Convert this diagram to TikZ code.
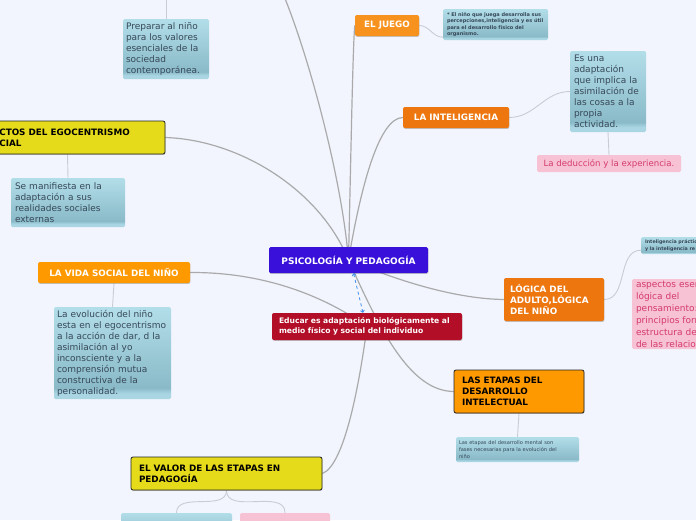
\documentclass[tikz,border=0pt]{standalone}
\usepackage{fontspec}
\setmainfont{DejaVu Sans}
\usepackage{xcolor}
\usepackage{tikz}
\usetikzlibrary{arrows.meta, shadows}
\definecolor{mappaper}{RGB}{242,245,253}
\definecolor{mapblue}{RGB}{56,16,218}
\definecolor{mapred}{RGB}{178,14,40}
\definecolor{juegoorange}{RGB}{247,146,30}
\definecolor{darkorange}{RGB}{237,118,14}
\definecolor{pureorange}{RGB}{255,153,0}
\definecolor{mapyellow}{RGB}{229,219,26}
\definecolor{tealtop}{RGB}{178,222,233}
\definecolor{tealbot}{RGB}{138,186,200}
\definecolor{tealstrip}{RGB}{170,214,227}
\definecolor{tealtext}{RGB}{55,72,88}
\definecolor{pinkfill}{RGB}{247,194,212}
\definecolor{pinktext}{RGB}{212,58,108}
\definecolor{linkgrey}{RGB}{170,170,172}
\definecolor{subgrey}{RGB}{200,204,212}
\definecolor{relblue}{RGB}{60,140,235}
\pgfdeclareverticalshading{notegloss}{100bp}{color(0bp)=(tealstrip); color(25bp)=(tealstrip); color(28bp)=(tealstrip); color(31bp)=(tealbot); color(75bp)=(tealtop); color(100bp)=(tealtop)}
\pgfdeclarelayer{paper}
\pgfdeclarelayer{links}
\pgfsetlayers{paper,links,main}
\tikzset{
  lifted/.style={drop shadow={shadow xshift=0.4pt, shadow yshift=-0.9pt, opacity=0.3, fill=black!70}},
  rootnode/.style={rectangle, fill=mapblue, text=white, rounded corners=1.5pt,
    font=\bfseries\fontsize{9}{11}\selectfont, inner sep=0pt, lifted},
  topic/.style={rectangle, text=white, rounded corners=2pt, align=left,
    font=\bfseries\fontsize{8.8}{11}\selectfont, inner sep=0pt, lifted},
  redtopic/.style={topic, fill=mapred, font=\bfseries\fontsize{7.6}{9.6}\selectfont, inner xsep=7pt},
  yellowtopic/.style={topic, fill=mapyellow, draw=black!85, line width=0.8pt, text=black},
  yellowlabel/.style={text=black, align=left, inner sep=0pt, font=\bfseries\fontsize{8.8}{11}\selectfont},
  notebox/.style={rectangle, shading=notegloss, text=tealtext, rounded corners=1.5pt, align=left,
    font=\fontsize{9}{11}\selectfont, inner xsep=4pt, inner ysep=0pt},
  pinkbox/.style={rectangle, fill=pinkfill, text=pinktext, rounded corners=1.5pt, align=left,
    font=\fontsize{9}{12}\selectfont, inner xsep=4pt, inner ysep=0pt},
  tinybold/.style={font=\bfseries\fontsize{5}{6.5}\selectfont},
  tinyplain/.style={font=\fontsize{5.1}{7}\selectfont},
  mainlink/.style={draw=linkgrey, line width=1.2pt},
  sublink/.style={draw=subgrey, line width=0.9pt},
  relation/.style={draw=relblue, dashed, line width=0.8pt, {Straight Barb[length=2pt,width=4pt]}-{Straight Barb[length=2pt,width=4pt]}}
}

\begin{document}
\begin{tikzpicture}[x=1pt, y=1pt]
  \useasboundingbox (0,0) rectangle (696,-520);
  \begin{pgfonlayer}{paper}
    \fill[mappaper] (0,0) rectangle (696,-520);
  \end{pgfonlayer}

  % centre and floating topic
  \node[rootnode, minimum width=159pt, minimum height=26pt] (root) at (348.5,-260) {PSICOLOGÍA Y PEDAGOGÍA};
  \node[redtopic, text width=176pt, minimum height=27pt] (educar) at (367,-326.5) {Educar es adaptación biológicamente al\\medio físico y social del individuo};

  % upper right
  \node[topic, fill=juegoorange, minimum width=64pt, minimum height=21pt] (juego) at (387,-25.5) {EL JUEGO};
  \node[notebox, tinybold, text width=97pt, minimum height=31pt] (juegonote) at (495.5,-24.5) {* El niño que juega desarrolla sus\\percepciones,inteligencia y es útil\\para el desarrollo físico del\\organismo.};
  \node[topic, fill=darkorange, minimum width=106pt, minimum height=21pt] (inteligencia) at (456,-117.5) {LA INTELIGENCIA};
  \node[notebox, text width=68pt, minimum height=81pt] (adaptacion) at (608,-91.5) {Es una\\adaptación\\que implica la\\asimilación de\\las cosas a la\\propia\\actividad.};
  \node[pinkbox, font=\fontsize{8.6}{11}\selectfont, minimum width=144pt, minimum height=17pt] (deduccion) at (609,-163.5) {La deducción y la experiencia.};

  % upper left
  \node[yellowtopic, minimum width=195pt, minimum height=33pt] (ego) at (67.5,-137.5) {};
  \node[yellowlabel, anchor=west, xshift=29.5pt] (egotext) at (ego.west) {CTOS DEL EGOCENTRISMO\\CIAL};
  \node[notebox, text width=106pt, minimum height=49pt] (manifiesta) at (68,-202.5) {Se manifiesta en la\\adaptación a sus\\realidades sociales\\externas};
  \node[notebox, text width=80pt, inner xsep=3pt, minimum height=60pt] (preparar) at (166,-49) {Preparar al niño\\para los valores\\esenciales de la\\sociedad\\contemporánea.};
  \coordinate (upper) at (284,4);
  \coordinate (prepup) at (166,4);

  % left
  \node[topic, fill=pureorange, minimum width=152pt, minimum height=21pt] (vida) at (114,-272.5) {LA VIDA SOCIAL DEL NIÑO};
  \node[notebox, text width=111pt, inner xsep=3pt, minimum height=92pt] (evolucion) at (112.5,-353) {La evolución del niño\\esta en el egocentrismo\\a la acción de dar, d la\\asimilación al yo\\inconsciente y a la\\comprensión mutua\\constructiva de la\\personalidad.};

  % right
  \node[topic, fill=darkorange, text width=88pt, inner xsep=6pt, minimum height=43pt] (logica) at (554,-299.5) {LÓGICA DEL\\ADULTO,LÓGICA\\DEL NIÑO};
  \node[notebox, tinybold, font=\bfseries\fontsize{4.8}{6.5}\selectfont, text width=90pt, minimum height=17pt] (practica) at (690,-245.5) {Inteligencia práctica\\y la inteligencia re};
  \node[pinkbox, text width=120pt, minimum height=70pt] (aspectos) at (696,-314) {aspectos esenciales\\lógica del\\pensamiento:\\principios formales\\estructura de\\de las relaciones};

  % bottom
  \node[topic, fill=pureorange, draw=black!85, line width=0.8pt, text=black, text width=114pt, inner xsep=8pt, minimum height=43pt] (etapas) at (519,-391.5) {LAS ETAPAS DEL\\DESARROLLO\\INTELECTUAL};
  \node[notebox, tinyplain, text width=117pt, inner xsep=3pt, minimum height=25pt] (etapasnote) at (517.5,-449.5) {Las etapas del desarrollo mental son\\fases necesarias para la evolución del\\niño};
  \node[yellowtopic, text width=175pt, inner xsep=8pt, minimum height=33pt] (valor) at (226.5,-473.5) {EL VALOR DE LAS ETAPAS EN\\PEDAGOGÍA};
  \node[notebox, minimum width=111pt, minimum height=26pt] (valorleft) at (176.5,-526) {};
  \node[pinkbox, minimum width=90pt, minimum height=26pt] (valorright) at (285,-526) {};

  \begin{pgfonlayer}{links}
    \draw[mainlink] (upper) .. controls (310,-60) and (342,-180) .. (root.center);
    \draw[mainlink] (root.center) .. controls (351,-150) and (353,-40) .. (juego.west);
    \draw[mainlink] (root.center) .. controls (362,-180) and (380,-118) .. (inteligencia.west);
    \draw[mainlink] (ego.east) .. controls (240,-140) and (320,-190) .. (root.center);
    \draw[mainlink] (root.center) .. controls (420,-290) and (470,-299) .. (logica.west);
    \draw[mainlink] (root.center) .. controls (380,-330) and (410,-391) .. (etapas.west);
    \draw[mainlink] (vida.east) .. controls (270,-272) and (330,-300) .. (educar.center);
    \draw[mainlink] (educar.center) .. controls (360,-380) and (345,-465) .. (valor.east);

    \draw[sublink] (juego.east) to[out=0, in=180] ([yshift=3pt]juegonote.south west);
    \draw[sublink] (inteligencia.east) to[out=0, in=180] (adaptacion.west);
    \draw[sublink] (adaptacion.south) -- (deduccion.north);
    \draw[sublink] (logica.east) to[out=0, in=180] ([yshift=4pt]practica.south west);
    \draw[sublink] (ego.south) -- (manifiesta.north);
    \draw[sublink] (preparar.north) -- (prepup);
    \draw[sublink] (vida.south) -- (evolucion.north);
    \draw[sublink] (etapas.south) -- (etapasnote.north);
    \draw[sublink] (valor.south) to[out=-90, in=90] (valorleft.north);
    \draw[sublink] (valor.south) to[out=-90, in=90] (valorright.north);
  \end{pgfonlayer}

  \draw[relation] ([xshift=5pt]root.south) -- ([xshift=-4pt]educar.north);
\end{tikzpicture}
\end{document}
